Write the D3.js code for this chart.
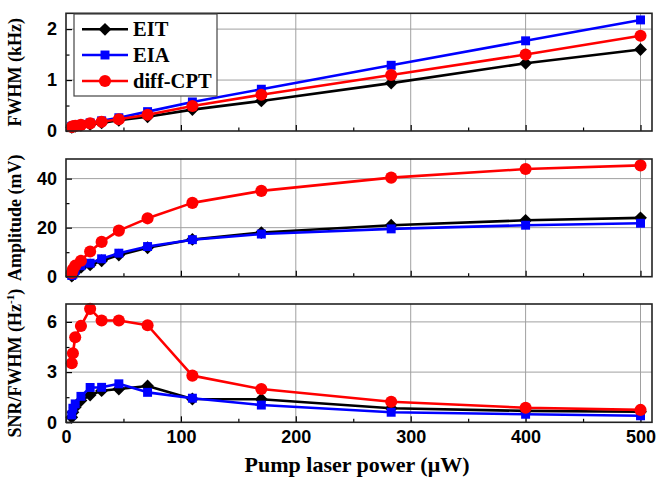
<!DOCTYPE html>
<html>
<head>
<meta charset="utf-8">
<script src="https://cdn.jsdelivr.net/npm/d3@7"></script>
<style>
  html, body { margin: 0; padding: 0; background: #fff; }
  svg { display: block; }
</style>
</head>
<body>
<svg id="chart" width="666" height="479"></svg>
<script>
// Pump power (µW) at which each spectrum was recorded
const power = [5, 6, 8, 13, 21, 31, 46, 71, 110, 170, 283, 400, 500];

// Linewidth, kHz
const fwhmEIT = [0.07, 0.08, 0.09, 0.11, 0.13, 0.16, 0.21, 0.28, 0.42, 0.59, 0.94, 1.33, 1.60];
const fwhmEIA = [0.09, 0.10, 0.11, 0.13, 0.16, 0.20, 0.26, 0.38, 0.57, 0.82, 1.29, 1.77, 2.18];
const fwhmCPT = [0.08, 0.09, 0.10, 0.12, 0.15, 0.18, 0.23, 0.32, 0.49, 0.71, 1.10, 1.50, 1.87];

// Resonance amplitude, mV
const ampEIT = [0.3, 0.8, 2.0, 3.8, 4.8, 6.5, 8.8, 11.8, 15.2, 18.0, 21.0, 23.0, 24.0];
const ampEIA = [0.5, 1.0, 2.5, 4.5, 5.5, 7.3, 9.6, 12.3, 15.1, 17.4, 19.5, 21.0, 21.8];
const ampCPT = [1.5, 3.0, 4.5, 6.5, 10.3, 14.2, 18.8, 23.8, 30.1, 35.0, 40.4, 43.9, 45.4];

// Figure of merit SNR/FWHM, Hz^-1
const fomEIT = [0.30, 0.60, 0.90, 1.30, 1.63, 1.89, 1.99, 2.17, 1.39, 1.38, 0.84, 0.68, 0.63];
const fomEIA = [0.44, 0.84, 1.10, 1.55, 2.08, 2.09, 2.30, 1.79, 1.44, 1.03, 0.60, 0.48, 0.39];
const fomCPT = [3.53, 4.13, 5.08, 5.76, 6.78, 6.08, 6.08, 5.80, 2.79, 1.99, 1.23, 0.87, 0.74];

// Axis ticks
const xTicks = [0, 100, 200, 300, 400, 500];
const yTicksFWHM = [0, 1, 2];
const yTicksAmp = [0, 20, 40];
const yTicksFom = [0, 3, 6];

const seriesNames = ["EIT", "EIA", "diff-CPT"];
const seriesColors = ["#000000", "#0000ff", "#ff0000"];
const seriesShapes = [d3.symbolDiamond2, d3.symbolSquare, d3.symbolCircle];
const seriesSizes = [105, 80, 115];

const svg = d3.select("#chart");
const left = 66, right = 652;
const x = d3.scaleLinear().domain([0, 510]).range([left, right]);

const panels = [
  { top: 13.3, bottom: 131, domain: [0, 2.31], ticks: yTicksFWHM, minor: 0.5,
    data: [fwhmEIT, fwhmEIA, fwhmCPT], title: "FWHM (kHz)", legend: true },
  { top: 159, bottom: 276.7, domain: [0, 48], ticks: yTicksAmp, minor: 10,
    data: [ampEIT, ampEIA, ampCPT], title: "Amplitude (mV)" },
  { top: 304, bottom: 422.3, domain: [0, 7.07], ticks: yTicksFom, minor: 1.5,
    data: [fomEIT, fomEIA, fomCPT], title: "SNR/FWHM (Hz", sup: "-1", xLabels: true }
];

const tickFont = "'Liberation Sans', Arial, sans-serif";
const titleFont = "'Liberation Serif', 'Times New Roman', serif";

panels.forEach(p => {
  const y = d3.scaleLinear().domain(p.domain).range([p.bottom, p.top]);
  const g = svg.append("g");

  // grid at major ticks
  g.selectAll(".gx").data(xTicks.filter(t => t > 0)).join("line")
    .attr("x1", d => x(d)).attr("x2", d => x(d))
    .attr("y1", p.top).attr("y2", p.bottom)
    .attr("stroke", "#a0a0a0").attr("stroke-width", 1);
  g.selectAll(".gy").data(p.ticks.filter(t => t > 0)).join("line")
    .attr("x1", left).attr("x2", right)
    .attr("y1", d => y(d)).attr("y2", d => y(d))
    .attr("stroke", "#a0a0a0").attr("stroke-width", 1);

  // inward ticks on bottom and left
  const xMinor = d3.range(50, 510, 100);
  g.append("g").attr("transform", `translate(0,${p.bottom})`)
    .call(d3.axisBottom(x).tickValues(xTicks).tickSize(-6).tickFormat(""))
    .call(a => a.select(".domain").remove())
    .call(a => a.selectAll("line").attr("stroke", "#000").attr("stroke-width", 1.2));
  g.append("g").attr("transform", `translate(0,${p.bottom})`)
    .call(d3.axisBottom(x).tickValues(xMinor).tickSize(-3.5).tickFormat(""))
    .call(a => a.select(".domain").remove())
    .call(a => a.selectAll("line").attr("stroke", "#000").attr("stroke-width", 1.2));
  const yMinor = d3.range(p.minor, p.domain[1], p.minor * 2);
  g.append("g").attr("transform", `translate(${left},0)`)
    .call(d3.axisLeft(y).tickValues(p.ticks).tickSize(-6).tickPadding(9).tickFormat(d3.format("d")))
    .call(a => a.select(".domain").remove())
    .call(a => a.selectAll("line").attr("stroke", "#000").attr("stroke-width", 1.2))
    .call(a => a.selectAll("text").attr("font-family", tickFont).attr("font-weight", "bold")
      .attr("font-size", 18).attr("fill", "#000"));
  g.append("g").attr("transform", `translate(${left},0)`)
    .call(d3.axisLeft(y).tickValues(yMinor).tickSize(-3.5).tickFormat(""))
    .call(a => a.select(".domain").remove())
    .call(a => a.selectAll("line").attr("stroke", "#000").attr("stroke-width", 1.2));

  if (p.xLabels) {
    g.append("g").attr("transform", `translate(0,${p.bottom})`)
      .call(d3.axisBottom(x).tickValues(xTicks).tickSize(0).tickPadding(8))
      .call(a => a.select(".domain").remove())
      .call(a => a.selectAll("text").attr("font-family", tickFont).attr("font-weight", "bold")
        .attr("font-size", 18).attr("fill", "#000"));
  }

  // series: black, then blue, then red on top
  const line = d3.line().x((d, i) => x(power[i])).y(d => y(d));
  p.data.forEach((vals, s) => {
    g.append("path").datum(vals)
      .attr("d", line).attr("fill", "none")
      .attr("stroke", seriesColors[s]).attr("stroke-width", 2.6)
      .attr("stroke-linejoin", "round");
    g.selectAll(null).data(vals).join("path")
      .attr("transform", (d, i) => `translate(${x(power[i])},${y(d)})`)
      .attr("d", d3.symbol().type(seriesShapes[s]).size(seriesSizes[s]))
      .attr("fill", seriesColors[s]);
  });

  // frame
  g.append("rect").attr("x", left).attr("y", p.top)
    .attr("width", right - left).attr("height", p.bottom - p.top)
    .attr("fill", "none").attr("stroke", "#222").attr("stroke-width", 1.6);

  // y title
  const t = svg.append("text")
    .attr("transform", `translate(21,${(p.top + p.bottom) / 2}) rotate(-90)`)
    .attr("text-anchor", "middle")
    .attr("font-family", titleFont).attr("font-weight", "bold").attr("font-size", 18)
    .attr("fill", "#000").text(p.title);
  if (p.sup) {
    t.append("tspan").attr("font-size", 11).attr("dy", -7).text(p.sup);
    t.append("tspan").attr("dy", 7).text(")");
  }

  if (p.legend) {
    const lg = svg.append("g");
    lg.append("rect").attr("x", 74).attr("y", 14).attr("width", 143).attr("height", 82)
      .attr("fill", "#fff").attr("stroke", "#444").attr("stroke-width", 1.2);
    const ly = [29.3, 55, 81];
    seriesNames.forEach((name, s) => {
      lg.append("line").attr("x1", 82).attr("x2", 128).attr("y1", ly[s]).attr("y2", ly[s])
        .attr("stroke", seriesColors[s]).attr("stroke-width", 2.6);
      lg.append("path").attr("transform", `translate(105,${ly[s]})`)
        .attr("d", d3.symbol().type(seriesShapes[s]).size(seriesSizes[s]))
        .attr("fill", seriesColors[s]);
      lg.append("text").attr("x", 133).attr("y", ly[s]).attr("dy", "0.35em")
        .attr("font-family", titleFont).attr("font-weight", "bold").attr("font-size", 20.5)
        .attr("fill", "#000").text(name);
    });
  }
});

svg.append("text").attr("x", (left + right) / 2 - 2).attr("y", 472)
  .attr("text-anchor", "middle")
  .attr("font-family", titleFont).attr("font-weight", "bold").attr("font-size", 22)
  .attr("fill", "#000").text("Pump laser power  (μW)");
</script>
</body>
</html>
